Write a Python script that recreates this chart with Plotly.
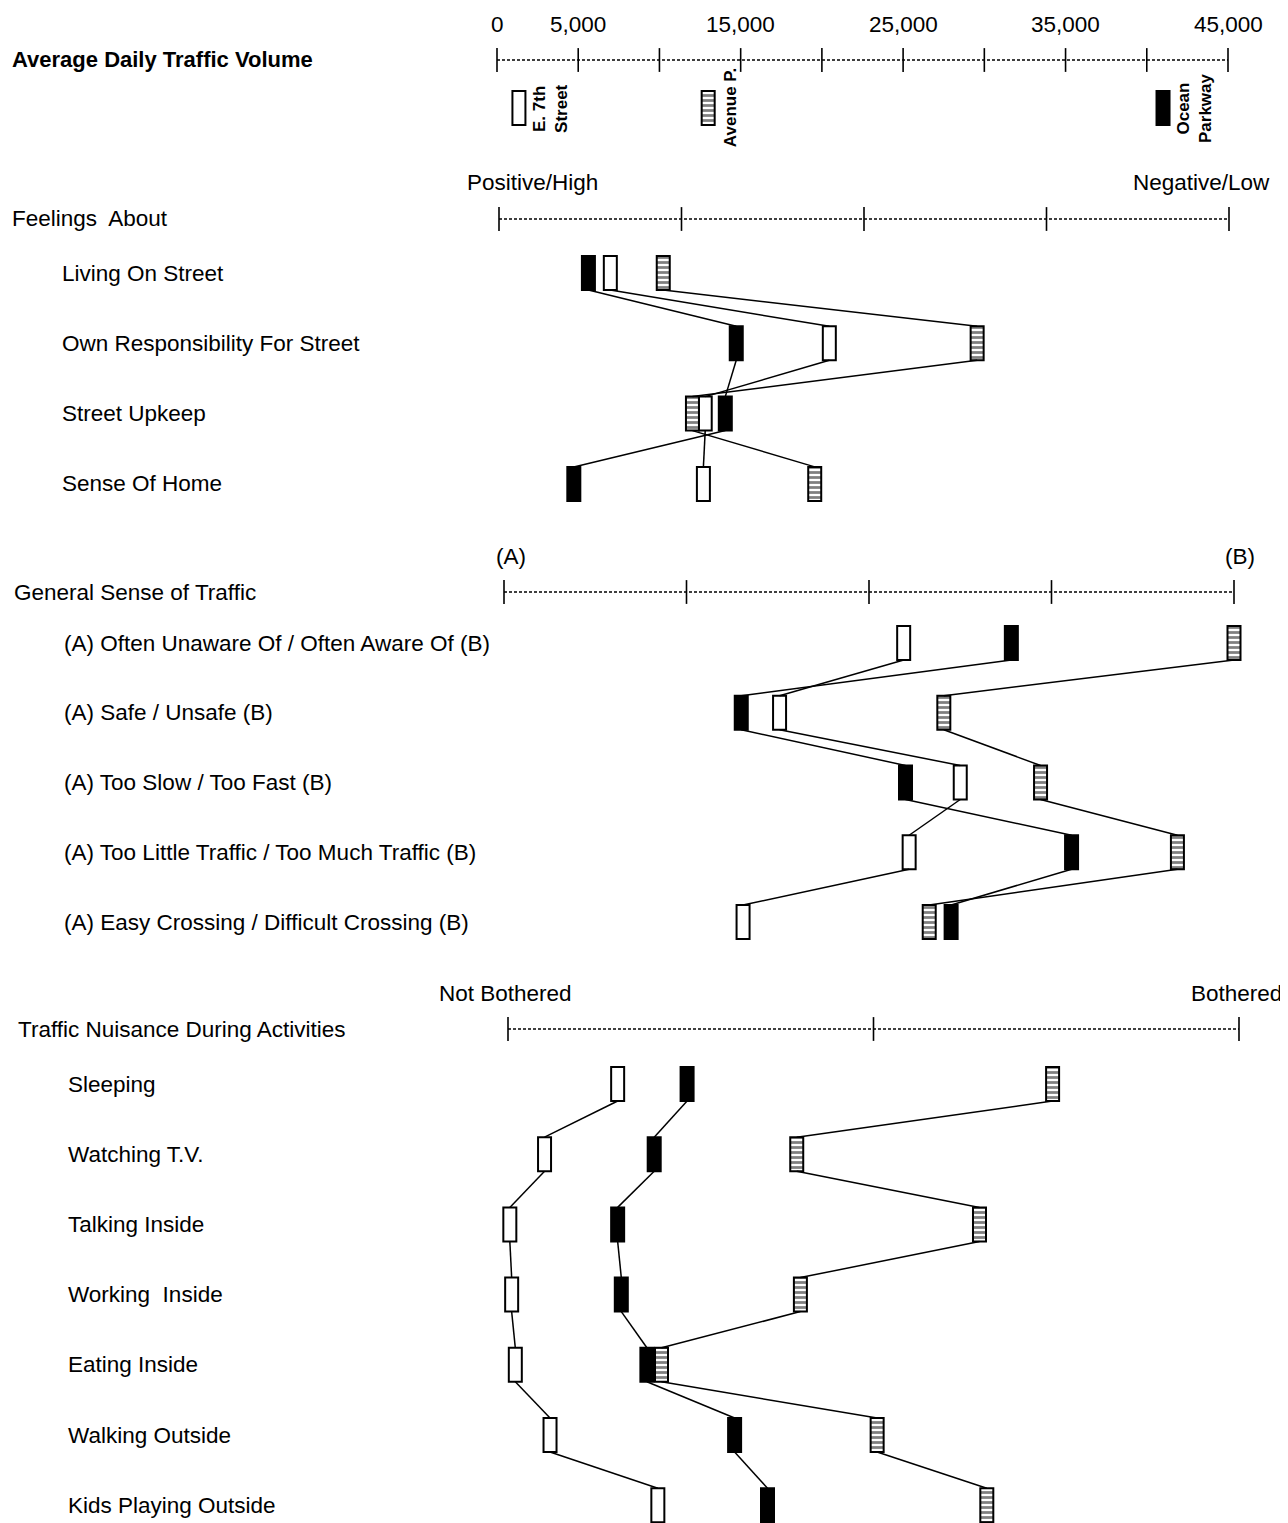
import plotly.graph_objects as go

# page is 1288x1523; the browser body margin puts the figure at (8, 8)
PAGE_W, PAGE_H, OFF = 1288, 1523, 8
W, H = PAGE_W - OFF, PAGE_H - OFF

# ---- data ----
streets = ["E. 7th Street", "Avenue P", "Ocean Parkway"]
street_tags = ["E. 7th<br>Street", "Avenue P.", "Ocean<br>Parkway"]

adt_ticks = [0, 5000, 10000, 15000, 20000, 25000, 30000, 35000, 40000, 45000]
adt_tick_labels = ["0", "5,000", "", "15,000", "", "25,000", "", "35,000", "", "45,000"]
adt_volume = [1350, 13000, 41000]

feelings_items = ["Living On Street", "Own Responsibility For Street",
                  "Street Upkeep", "Sense Of Home"]
feelings_e7th = [1.61, 2.81, 2.13, 2.12]
feelings_avep = [1.90, 3.62, 2.06, 2.73]
feelings_ocean = [1.49, 2.30, 2.24, 1.41]

traffic_items = ["(A) Often Unaware Of / Often Aware Of (B)",
                 "(A) Safe / Unsafe (B)",
                 "(A) Too Slow / Too Fast (B)",
                 "(A) Too Little Traffic / Too Much Traffic (B)",
                 "(A) Easy Crossing / Difficult Crossing (B)"]
traffic_e7th = [3.19, 2.51, 3.50, 3.22, 2.31]
traffic_avep = [5.00, 3.41, 3.94, 4.69, 3.33]
traffic_ocean = [3.78, 2.30, 3.20, 4.11, 3.45]

nuisance_items = ["Sleeping", "Watching T.V.", "Talking Inside", "Working  Inside",
                  "Eating Inside", "Walking Outside", "Kids Playing Outside"]
nuisance_e7th = [1.30, 1.10, 1.005, 1.01, 1.02, 1.115, 1.41]
nuisance_avep = [2.49, 1.79, 2.29, 1.80, 1.42, 2.01, 2.31]
nuisance_ocean = [1.49, 1.40, 1.30, 1.31, 1.38, 1.62, 1.71]

scale5_ticks = [1, 2, 3, 4, 5]
scale3_ticks = [1, 2, 3]

# ---- layout helpers (pixel geometry of the page) ----
FONT = "Liberation Sans"
FS = 22.5
BOX_W, BOX_H = 13, 34
PAD = 24  # extra pixels around each scale so boxes at the ends are not clipped


def px_x(p):
    return (p - OFF) / W


def px_y(p):
    return 1 - (p - OFF) / H


panels = [
    dict(xpx=(497, 1228), xr=(0, 45000), row0=108, sp=48, top=OFF, bot=160, axis=60),
    dict(xpx=(499, 1229), xr=(1, 5), row0=273, sp=70.3, top=160, bot=520, axis=219),
    dict(xpx=(504, 1234), xr=(1, 5), row0=643, sp=69.75, top=520, bot=960, axis=592),
    dict(xpx=(508, 1239), xr=(1, 3), row0=1084, sp=70.2, top=960, bot=PAGE_H, axis=1029),
]

fig = go.Figure()
layout_axes = {}

for i, p in enumerate(panels):
    n = "" if i == 0 else str(i + 1)
    span_px = p["xpx"][1] - p["xpx"][0]
    p["xref"] = "x" + n
    p["yref"] = "y" + n
    p["ux"] = (p["xr"][1] - p["xr"][0]) / span_px  # data units per pixel
    layout_axes["xaxis" + n] = dict(domain=[px_x(p["xpx"][0] - PAD), px_x(p["xpx"][1] + PAD)],
                                    range=[p["xr"][0] - PAD * p["ux"], p["xr"][1] + PAD * p["ux"]],
                                    visible=False, anchor="y" + n)
    layout_axes["yaxis" + n] = dict(domain=[px_y(p["bot"]), px_y(p["top"])],
                                    range=[(p["bot"] - p["row0"]) / p["sp"], (p["top"] - p["row0"]) / p["sp"]],
                                    visible=False, anchor="x" + n)
    p["axis_row"] = (p["axis"] - p["row0"]) / p["sp"]


def axis_line(p, ticks):
    fig.add_trace(go.Scatter(x=[p["xr"][0], p["xr"][1]], y=[p["axis_row"]] * 2, mode="lines",
                             line=dict(color="black", width=1.4, dash="3px,2px"), cliponaxis=False,
                             xaxis=p["xref"], yaxis=p["yref"], hoverinfo="skip", showlegend=False))
    fig.add_trace(go.Scatter(x=ticks, y=[p["axis_row"]] * len(ticks), mode="markers",
                             marker=dict(symbol="line-ns", size=17, line=dict(color="black", width=1.6)),
                             cliponaxis=False,
                             xaxis=p["xref"], yaxis=p["yref"], hoverinfo="skip", showlegend=False))


styles = {
    "open": dict(color="white", line=dict(color="black", width=2)),
    "hatch": dict(color="white", line=dict(color="black", width=2),
                  pattern=dict(shape="-", fgcolor="black", bgcolor="white", size=5, solidity=0.55)),
    "solid": dict(color="black", line=dict(color="black", width=2)),
}


def boxes(p, xs, rows, kind, name):
    h = BOX_H / p["sp"]
    fig.add_trace(go.Bar(x=xs, y=[h] * len(xs), base=[r - h / 2 for r in rows],
                         width=BOX_W * p["ux"], marker=styles[kind], name=name,
                         xaxis=p["xref"], yaxis=p["yref"], showlegend=False))


def connect(p, xs):
    h = BOX_H / p["sp"]
    lx, ly = [], []
    for k in range(len(xs) - 1):
        lx += [xs[k], xs[k + 1], None]
        ly += [k + h / 2, k + 1 - h / 2, None]
    fig.add_trace(go.Scatter(x=lx, y=ly, mode="lines", line=dict(color="black", width=1.5),
                             cliponaxis=False,
                             xaxis=p["xref"], yaxis=p["yref"], hoverinfo="skip", showlegend=False))


annotations = []


def label(text, xpx, ypx, size=FS, anchor="left", bold=False):
    annotations.append(dict(text=f"<b>{text}</b>" if bold else text, x=px_x(xpx), y=px_y(ypx),
                            xref="paper", yref="paper", xanchor=anchor, yanchor="middle",
                            showarrow=False, font=dict(family=FONT, size=size, color="black")))


# ---- panel 1: average daily traffic volume ----
p1 = panels[0]
axis_line(p1, adt_ticks)
for t, lab in zip(adt_ticks, adt_tick_labels):
    if lab:
        annotations.append(dict(text=lab, x=t, y=-1.73, xref=p1["xref"], yref=p1["yref"],
                                showarrow=False, font=dict(family=FONT, size=FS, color="black")))
for v, kind, s, tag in zip(adt_volume, ["open", "hatch", "solid"], streets, street_tags):
    boxes(p1, [v], [0], kind, s)
    nlines = tag.count("<br>") + 1
    annotations.append(dict(text=f"<b>{tag}</b>", x=v, y=0, xref=p1["xref"], yref=p1["yref"],
                            xshift=22 + 9 * (nlines - 1), textangle=-90, showarrow=False,
                            font=dict(family=FONT, size=17, color="black")))
label("Average Daily Traffic Volume", 10, 60, size=22, bold=True)

# ---- panels 2-4 ----
groups = [
    (panels[1], feelings_items, feelings_e7th, feelings_avep, feelings_ocean, scale5_ticks, "Feelings  About", 10, 60),
    (panels[2], traffic_items, traffic_e7th, traffic_avep, traffic_ocean, scale5_ticks, "General Sense of Traffic", 12, 62),
    (panels[3], nuisance_items, nuisance_e7th, nuisance_avep, nuisance_ocean, scale3_ticks,
     "Traffic Nuisance During Activities", 16, 66),
]
for p, items, e7, ap, oc, ticks, title, tx, ix in groups:
    axis_line(p, ticks)
    rows = list(range(len(items)))
    for xs in (e7, ap, oc):
        connect(p, xs)
    boxes(p, e7, rows, "open", streets[0])
    boxes(p, ap, rows, "hatch", streets[1])
    boxes(p, oc, rows, "solid", streets[2])
    label(title, tx, p["axis"])
    for r, it in zip(rows, items):
        annotations.append(dict(text=it, x=px_x(ix), y=r, xref="paper", yref=p["yref"],
                                xanchor="left", showarrow=False,
                                font=dict(family=FONT, size=FS, color="black")))

label("Positive/High", 532, 182, anchor="center")
label("Negative/Low", 1201, 182, anchor="center")
label("(A)", 511, 556, anchor="center")
label("(B)", 1240, 556, anchor="center")
label("Not Bothered", 505, 993, anchor="center")
label("Bothered", 1236, 993, anchor="center")

fig.update_layout(
    width=W, height=H,
    margin=dict(l=0, r=0, t=0, b=0),
    paper_bgcolor="white", plot_bgcolor="rgba(0,0,0,0)",
    barmode="overlay", showlegend=False,
    annotations=annotations,
    **layout_axes,
)

fig.write_html("out.html")
